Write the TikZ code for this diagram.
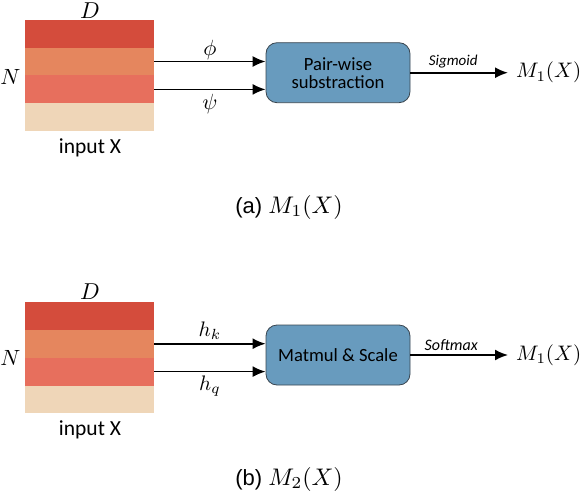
\documentclass[tikz,border=0pt]{standalone}
\usepackage{graphicx}
\usepackage{fontspec}
\newfontfamily\carlito{Carlito}
\newfontfamily\arialf{Liberation Sans}
\usetikzlibrary{arrows.meta}
\definecolor{rA}{RGB}{212,76,60}
\definecolor{rB}{RGB}{229,134,94}
\definecolor{rC}{RGB}{231,111,93}
\definecolor{rD}{RGB}{239,214,184}
\definecolor{boxfill}{RGB}{104,155,190}
\definecolor{boxline}{RGB}{58,70,80}
\newcommand{\scm}[2]{{\normalsize\scalebox{#1}{$#2$}}}
\tikzset{
  stripe/.style={rectangle, minimum width=129pt, minimum height=27.9pt, inner sep=0pt, draw=none},
  opbox/.style={rectangle, rounded corners=11pt, draw=boxline, line width=0.8pt, fill=boxfill,
     minimum width=144pt, minimum height=60pt, align=center, inner sep=2pt,
     font=\carlito\fontsize{18.6}{21}\selectfont},
  flow/.style={line width=1.7pt, -{Latex[length=13pt,width=11pt]}},
  mlab/.style={inner sep=1pt},
  actlab/.style={font=\carlito\itshape\fontsize{15}{17}\selectfont, inner sep=1pt},
  outlab/.style={anchor=west, inner sep=0pt},
  inlab/.style={font=\carlito\fontsize{21.5}{24}\selectfont, inner sep=0pt},
  caplab/.style={font=\arialf\fontsize{22}{26}\selectfont, inner sep=0pt},
}
\begin{document}
\begin{tikzpicture}[x=1pt,y=-1pt]
\useasboundingbox (0,0) rectangle (582,496);
% ---------- (a) ----------
\node[stripe, fill=rA] (a1) at (89.5,33.6) {};
\node[stripe, fill=rB] (a2) at (89.5,61.5) {};
\node[stripe, fill=rC] (a3) at (89.5,89.4) {};
\node[stripe, fill=rD] (a4) at (89.5,117.3) {};
\node[mlab] (aD) at (90,11) {\scm{2.3}{D}};
\node[mlab] (aN) at (10.5,77) {\scm{2.2}{N}};
\node[inlab] (aIn) at (90,148) {input X};
\node[opbox] (aBox) at (338,72.7) {Pair-wise\\[-3pt]substraction};
\draw[flow] (a2.east) -- node[mlab, above=0pt] (aPhi) {\scm{2.2}{\phi}} (a2.east -| aBox.west);
\draw[flow] (a3.east) -- node[mlab, below=3pt] (aPsi) {\scm{2.2}{\psi}} (a3.east -| aBox.west);
\coordinate (aTip) at (508,72.7);
\draw[flow] (aBox.east) -- node[actlab, above=3pt, xshift=-6pt] (aSig) {Sigmoid} (aTip);
\node[outlab] (aOut) at (516,72.7) {\scm{2.1}{M_{1}(X)}};
\node[caplab] (aCap) at (289,207) {(a) \scm{2.4}{M_1(X)}};
% ---------- (b) ----------
\node[stripe, fill=rA] (b1) at (89.5,315.8) {};
\node[stripe, fill=rB] (b2) at (89.5,343.7) {};
\node[stripe, fill=rC] (b3) at (89.5,371.6) {};
\node[stripe, fill=rD] (b4) at (89.5,399.5) {};
\node[mlab] (bD) at (90,291.5) {\scm{2.3}{D}};
\node[mlab] (bN) at (10.5,358) {\scm{2.2}{N}};
\node[inlab] (bIn) at (90,430) {input X};
\node[opbox] (bBox) at (338,355) {Matmul \& Scale};
\draw[flow] (b2.east) -- node[mlab, above=2pt] (bHk) {\scm{2.1}{h_k}} (b2.east -| bBox.west);
\draw[flow] (b3.east) -- node[mlab, below=2pt] (bHq) {\scm{2.1}{h_q}} (b3.east -| bBox.west);
\coordinate (bTip) at (508,355);
\draw[flow] (bBox.east) -- node[actlab, font=\carlito\itshape\fontsize{16}{18}\selectfont, above=3pt, xshift=-8pt] (bSoft) {Softmax} (bTip);
\node[outlab] (bOut) at (516,355) {\scm{2.1}{M_{1}(X)}};
\node[caplab] (bCap) at (289,479) {(b) \scm{2.4}{M_2(X)}};
\end{tikzpicture}
\end{document}
